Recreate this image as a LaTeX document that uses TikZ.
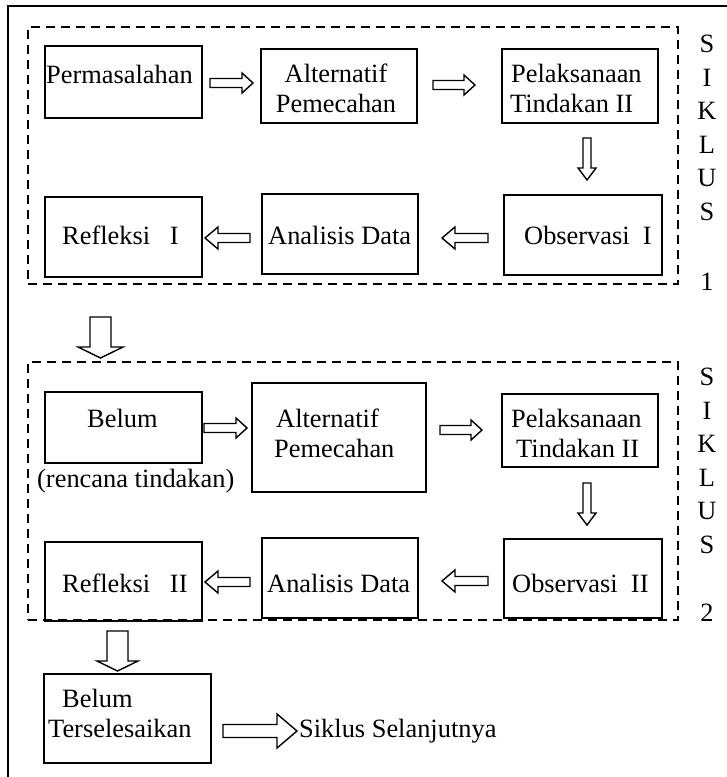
\documentclass[tikz,border=0pt]{standalone}
\usepackage{fontspec}
\setmainfont{Liberation Serif}
\usetikzlibrary{calc,fit}
\newcommand{\blockarrowH}[5]{%
  \draw[blk] let \p1=(#1), \p2=(#2), \n1={(\x2-\x1)/abs(\x2-\x1)*#5} in
   (\x1,\y1+#3) -- (\x2-\n1,\y1+#3) -- (\x2-\n1,\y1+#4) -- (\x2,\y1)
   -- (\x2-\n1,\y1-#4) -- (\x2-\n1,\y1-#3) -- (\x1,\y1-#3) -- cycle;}
\newcommand{\blockarrowV}[5]{%
  \draw[blk] let \p1=(#1), \p2=(#2), \n1={(\y2-\y1)/abs(\y2-\y1)*#5} in
   (\x1+#3,\y1) -- (\x1+#3,\y2-\n1) -- (\x1+#4,\y2-\n1) -- (\x1,\y2)
   -- (\x1-#4,\y2-\n1) -- (\x1-#3,\y2-\n1) -- (\x1-#3,\y1) -- cycle;}
\begin{document}
\begin{tikzpicture}[x=1pt,y=-1pt,
  box/.style={draw, line width=1.8pt, inner sep=0pt},
  dbox/.style={draw, line width=1.6pt, dash pattern=on 9pt off 6pt, inner sep=0pt},
  blk/.style={draw, fill=white, line width=1.4pt, line join=miter},
  txt/.style={inner sep=0pt, anchor=base west, font=\fontsize{26.4}{30}\selectfont},
  ctxt/.style={txt, anchor=base},
  frameline/.style={line width=2pt}]
\useasboundingbox (0,0) rectangle (727,777);
\draw[frameline] (8,777) -- (8,6) -- (727,6);

% ---------- cycle 1 ----------
\node[dbox, fit={(28,27) (678,284)}] (S1) {};
\node[box, fit={(45,46) (202,118)}] (P1) {};
\node[box, fit={(261,49) (417,123)}] (A1) {};
\node[box, fit={(502,49) (658,123)}] (L1) {};
\node[box, fit={(45,197) (202,277)}] (R1) {};
\node[box, fit={(262,194) (418,274)}] (D1) {};
\node[box, fit={(504,195) (662,275)}] (O1) {};

\node[txt] (tP1) at (46,83) {Permasalahan};
\node[ctxt] (tA1a) at (336,82) {Alternatif};
\node[ctxt] (tA1b) at (336,112) {Pemecahan};
\node[txt] (tL1a) at (511,82) {Pelaksanaan};
\node[txt] (tL1b) at (510,112) {Tindakan II};
\node[txt] (tR1) at (62,244) {Refleksi\ \ \ I};
\node[txt] (tD1) at (268,244) {Analisis Data};
\node[txt] (tO1) at (524,244) {Observasi\ \ I};

\coordinate (a1t) at (210,83);  \coordinate (a1h) at (253,83);
\coordinate (a2t) at (433,85);  \coordinate (a2h) at (475,85);
\coordinate (a3t) at (587,138); \coordinate (a3h) at (587,180);
\coordinate (a4t) at (250,238); \coordinate (a4h) at (205,238);
\coordinate (a5t) at (488,238); \coordinate (a5h) at (442,238);
\blockarrowH{a1t}{a1h}{4.5}{10}{11}
\blockarrowH{a2t}{a2h}{4.5}{10}{11}
\blockarrowV{a3t}{a3h}{4}{9}{12}
\blockarrowH{a4t}{a4h}{4.5}{11}{13}
\blockarrowH{a5t}{a5h}{4.5}{11}{13}

\foreach \l [count=\i] in {S,I,K,L,U,S}
  \node[ctxt] (k1-\i) at (707,{52.7+33.5*(\i-1)}) {\l};
\node[ctxt] (k1-n) at (707,290) {1};

% between cycles
\coordinate (b1t) at (100.5,317); \coordinate (b1h) at (100.5,358);
\blockarrowV{b1t}{b1h}{10.5}{22.5}{11}

% ---------- cycle 2 ----------
\node[dbox, fit={(28,362) (678,620)}] (S2) {};
\node[box, fit={(45,392) (202,463)}] (B2) {};
\node[box, fit={(252,383) (426,492)}] (A2) {};
\node[box, fit={(502,394) (658,467)}] (L2) {};
\node[box, fit={(45,542) (202,621)}] (R2) {};
\node[box, fit={(262,538) (418,618)}] (D2) {};
\node[box, fit={(504,539) (662,618)}] (O2) {};

\node[txt] (tB2a) at (87,427) {Belum};
\node[txt] (tB2b) at (37,487) {(rencana tindakan)};
\node[txt] (tA2a) at (276,427) {Alternatif};
\node[txt] (tA2b) at (274,457) {Pemecahan};
\node[txt] (tL2a) at (511,427) {Pelaksanaan};
\node[txt] (tL2b) at (516,457) {Tindakan II};
\node[txt] (tR2) at (62,592) {Refleksi\ \ \ II};
\node[txt] (tD2) at (267,592) {Analisis Data};
\node[txt] (tO2) at (512,592) {Observasi\ \ II};

\coordinate (c1t) at (204,428); \coordinate (c1h) at (247,428);
\coordinate (c2t) at (440,430); \coordinate (c2h) at (482,430);
\coordinate (c3t) at (587,483); \coordinate (c3h) at (587,525);
\coordinate (c4t) at (250,582); \coordinate (c4h) at (205,582);
\coordinate (c5t) at (488,581); \coordinate (c5h) at (442,581);
\blockarrowH{c1t}{c1h}{4.5}{10}{11}
\blockarrowH{c2t}{c2h}{4.5}{10}{11}
\blockarrowV{c3t}{c3h}{4}{9}{12}
\blockarrowH{c4t}{c4h}{4.5}{11}{13}
\blockarrowH{c5t}{c5h}{4.5}{11}{13}

\foreach \l [count=\i] in {S,I,K,L,U,S}
  \node[ctxt] (k2-\i) at (707,{385.7+33.5*(\i-1)}) {\l};
\node[ctxt] (k2-n) at (707,621) {2};

% ---------- end ----------
\coordinate (e1t) at (117.5,631); \coordinate (e1h) at (117.5,671);
\blockarrowV{e1t}{e1h}{10.5}{20.5}{10}
\node[box, fit={(44,674) (211,763)}] (BT) {};
\node[txt] (tBTa) at (62,707) {Belum};
\node[txt] (tBTb) at (48,737) {Terselesaikan};
\coordinate (e2t) at (223,731); \coordinate (e2h) at (297,731);
\blockarrowH{e2t}{e2h}{6.5}{17}{20}
\node[txt] (tSS) at (299,737) {Siklus Selanjutnya};
\end{tikzpicture}
\end{document}
